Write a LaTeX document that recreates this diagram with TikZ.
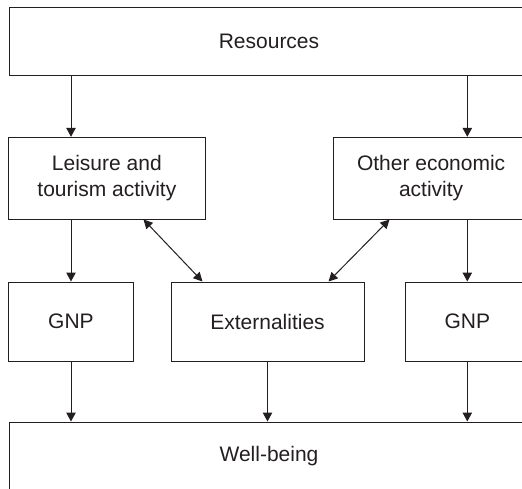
\documentclass[tikz,border=0pt]{standalone}
\usepackage{fontspec}
\setmainfont{Liberation Sans}
\usetikzlibrary{arrows.meta,positioning,calc}
\definecolor{ink}{RGB}{35,31,32}

\begin{document}
\begin{tikzpicture}[x=1pt,y=-1pt,
    every node/.style={font=\fontsize{21}{26}\selectfont,text=ink},
    box/.style={draw=ink,line width=1pt,inner sep=0pt,align=center},
    arr/.style={draw=ink,line width=1pt,-{Triangle[length=9pt,width=9.5pt]}},
    darr/.style={draw=ink,line width=1pt,{Triangle[length=9pt,width=9pt]}-{Triangle[length=9pt,width=9pt]}}]
  \useasboundingbox (0,0) rectangle (522,488);
  \clip (0,0) rectangle (522,488);

  \node[box,minimum width=520pt,minimum height=68.4pt] (res) at (269,41.5) {Resources};
  \node[box,minimum width=196.3pt,minimum height=81.7pt] (leis) at (106.85,178.15) {Leisure and\\tourism activity};
  \node[box,minimum width=196.3pt,minimum height=81.7pt] (other) at (431.15,178.15) {Other economic\\activity};
  \node[box,minimum width=124.6pt,minimum height=79pt] (gnpL) at (71,321.5) {GNP};
  \node[box,minimum width=193pt,minimum height=79pt] (ext) at (267.5,321.5) {Externalities};
  \node[box,minimum width=124.6pt,minimum height=79pt] (gnpR) at (467.3,321.5) {GNP};
  \node[box,minimum width=520pt,minimum height=68pt] (well) at (269,456) {Well-being};

  % resources into the two activities
  \draw[arr] (res.south -| gnpL) -- (leis.north -| gnpL);
  \draw[arr] (res.south -| gnpR) -- (other.north -| gnpR);
  % activities into GNP
  \draw[arr] (leis.south -| gnpL) -- (gnpL.north);
  \draw[arr] (other.south -| gnpR) -- (gnpR.north);
  % externalities both ways
  \draw[darr] ([xshift=-62pt]leis.south east) -- ([xshift=32pt]ext.north west);
  \draw[darr] ([xshift=57pt]other.south west) -- ([xshift=-36pt]ext.north east);
  % everything into well-being
  \draw[arr] (gnpL.south) -- (well.north -| gnpL);
  \draw[arr] (ext.south) -- (well.north -| ext);
  \draw[arr] (gnpR.south) -- (well.north -| gnpR);
\end{tikzpicture}
\end{document}
